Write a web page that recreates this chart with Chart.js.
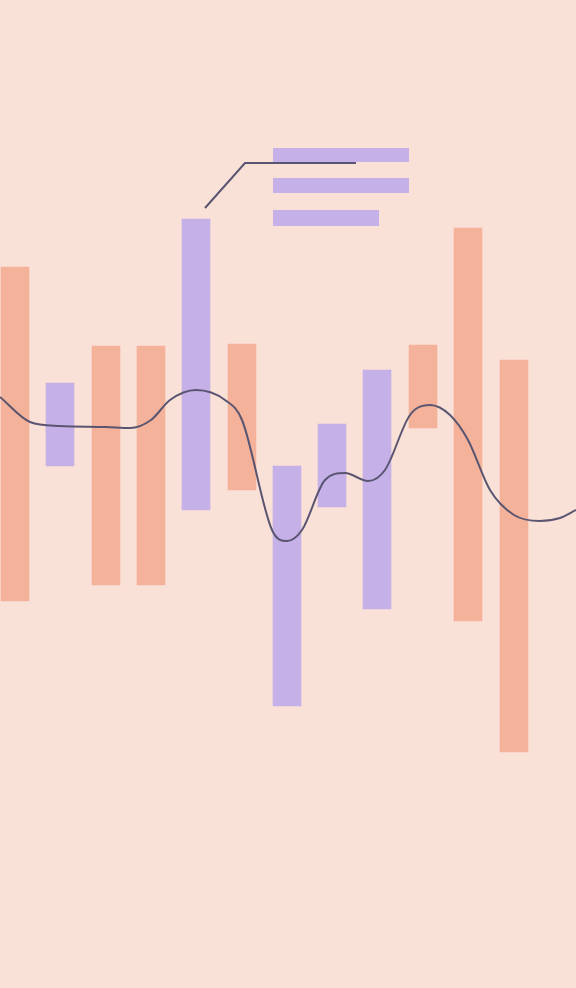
<!DOCTYPE html>
<html><head><meta charset="utf-8">
<script src="https://cdn.jsdelivr.net/npm/chart.js@4"></script>
<style>html,body{margin:0;padding:0;background:#fae1d7;}#w{width:576px;height:988px;}</style>
</head><body><div id="w"><canvas id="c"></canvas></div>
<script>
// x positions (px units on 0..576 scale), y values on 0..988 scale (bottom=0)
const barX = [15,60,106,151,196,242,287,332,377,423,468,514];
const barTop = [721,605,642,642,769,644,522,564,618,643,760,628];
const barBottom = [387,522,403,403,478,498,282,481,379,560,367,236];
const barKind = ['o','p','o','o','p','o','p','p','p','o','o','o'];
const lineX = [0,30,60,106,130,151,170,196,225,242,272,287,302,325,345,368,385,410,430,450,468,490,514,540,560,576];
const lineY = [591,566,562,561,560,568,588,598,588,568,458,447,458,508,515,507,518,573,583,573,548,498,473,467,470,478];
const ORANGE='#f4b29b', PURPLE='#c5b0e8', LINE='#5a5570';
const calloutPlugin={id:'callout',afterDraw(ch){const c=ch.ctx;c.save();c.fillStyle=PURPLE;
 c.fillRect(273,148,136,14);c.fillRect(273,178,136,15);c.fillRect(273,210,106,16);
 c.strokeStyle=LINE;c.lineWidth=2;c.beginPath();c.moveTo(205,208);c.lineTo(245,163);c.lineTo(356,163);c.stroke();c.restore();}};
new Chart(document.getElementById('c'),{
 data:{datasets:[
  {type:'line',data:lineX.map((x,i)=>({x,y:lineY[i]})),borderColor:LINE,borderWidth:2,pointRadius:0,tension:0.4,cubicInterpolationMode:'monotone',order:0,clip:false},
  {type:'bar',data:barX.map((x,i)=>({x,y:[barBottom[i],barTop[i]]})),backgroundColor:barKind.map(k=>k==='o'?ORANGE:PURPLE),barThickness:28,order:1}
 ]},
 options:{responsive:true,maintainAspectRatio:false,animation:false,layout:{padding:0},
  plugins:{legend:{display:false},tooltip:{enabled:false}},
  scales:{x:{type:'linear',min:0,max:576,offset:false,display:false},y:{min:0,max:988,display:false}}},
 plugins:[calloutPlugin]
});
</script></body></html>
